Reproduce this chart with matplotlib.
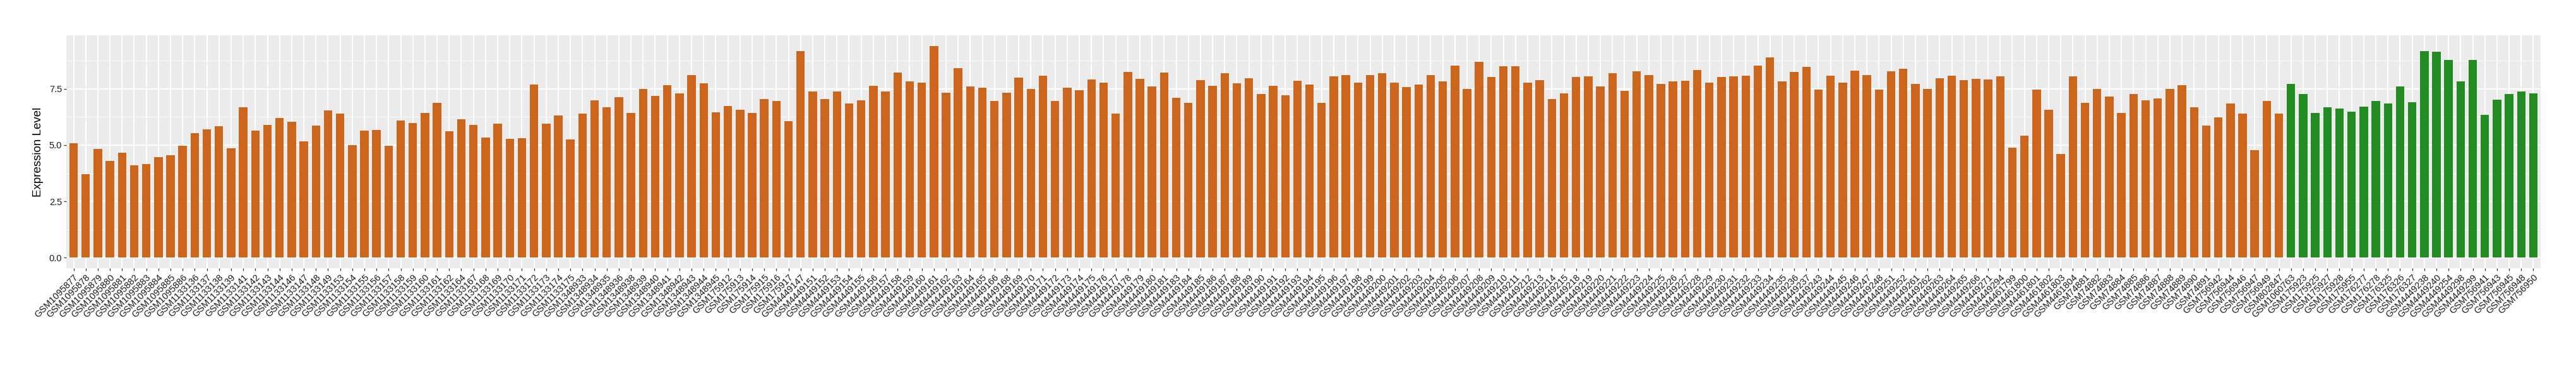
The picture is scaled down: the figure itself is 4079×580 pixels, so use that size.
import numpy as np
import matplotlib.pyplot as plt
from matplotlib.ticker import MultipleLocator, FormatStrFormatter

plt.rcParams['font.family'] = ['Liberation Sans', 'DejaVu Sans']

# Samples in the first (orange) group
orange_samples = [
    "GSM1095877", "GSM1095878", "GSM1095879", "GSM1095880", "GSM1095881",
    "GSM1095882", "GSM1095883", "GSM1095884", "GSM1095885", "GSM1095886",
    "GSM1133136", "GSM1133137", "GSM1133138", "GSM1133139", "GSM1133141",
    "GSM1133142", "GSM1133143", "GSM1133144", "GSM1133146", "GSM1133147",
    "GSM1133148", "GSM1133149", "GSM1133153", "GSM1133154", "GSM1133155",
    "GSM1133156", "GSM1133157", "GSM1133158", "GSM1133159", "GSM1133160",
    "GSM1133161", "GSM1133162", "GSM1133164", "GSM1133167", "GSM1133168",
    "GSM1133169", "GSM1133170", "GSM1133171", "GSM1133172", "GSM1133173",
    "GSM1133174", "GSM1133175", "GSM1348933", "GSM1348934", "GSM1348935",
    "GSM1348936", "GSM1348938", "GSM1348939", "GSM1348940", "GSM1348941",
    "GSM1348942", "GSM1348943", "GSM1348944", "GSM1348945", "GSM175912",
    "GSM175913", "GSM175914", "GSM175915", "GSM175916", "GSM175917",
    "GSM4449147", "GSM4449151", "GSM4449152", "GSM4449153", "GSM4449154",
    "GSM4449155", "GSM4449156", "GSM4449157", "GSM4449158", "GSM4449159",
    "GSM4449160", "GSM4449161", "GSM4449162", "GSM4449163", "GSM4449164",
    "GSM4449165", "GSM4449166", "GSM4449168", "GSM4449169", "GSM4449170",
    "GSM4449171", "GSM4449172", "GSM4449173", "GSM4449174", "GSM4449175",
    "GSM4449176", "GSM4449177", "GSM4449178", "GSM4449179", "GSM4449180",
    "GSM4449181", "GSM4449183", "GSM4449184", "GSM4449185", "GSM4449186",
    "GSM4449187", "GSM4449188", "GSM4449189", "GSM4449190", "GSM4449191",
    "GSM4449192", "GSM4449193", "GSM4449194", "GSM4449195", "GSM4449196",
    "GSM4449197", "GSM4449198", "GSM4449199", "GSM4449200", "GSM4449201",
    "GSM4449202", "GSM4449203", "GSM4449204", "GSM4449205", "GSM4449206",
    "GSM4449207", "GSM4449208", "GSM4449209", "GSM4449210", "GSM4449211",
    "GSM4449212", "GSM4449213", "GSM4449214", "GSM4449215", "GSM4449218",
    "GSM4449219", "GSM4449220", "GSM4449221", "GSM4449222", "GSM4449223",
    "GSM4449224", "GSM4449225", "GSM4449226", "GSM4449227", "GSM4449228",
    "GSM4449229", "GSM4449230", "GSM4449231", "GSM4449232", "GSM4449233",
    "GSM4449234", "GSM4449235", "GSM4449236", "GSM4449237", "GSM4449243",
    "GSM4449244", "GSM4449245", "GSM4449246", "GSM4449247", "GSM4449248",
    "GSM4449251", "GSM4449252", "GSM4449261", "GSM4449262", "GSM4449263",
    "GSM4449264", "GSM4449265", "GSM4449266", "GSM4449271", "GSM4449294",
    "GSM4461799", "GSM4461800", "GSM4461801", "GSM4461802", "GSM4461803",
    "GSM4461804", "GSM74881", "GSM74882", "GSM74883", "GSM74884",
    "GSM74885", "GSM74886", "GSM74887", "GSM74888", "GSM74889",
    "GSM74890", "GSM74891", "GSM756942", "GSM756944", "GSM756946",
    "GSM756947", "GSM756949", "GSM802847",
]
orange_values = [
    5.07, 3.72, 4.82, 4.29, 4.67, 4.11, 4.17, 4.48, 4.54, 4.96,
    5.52, 5.70, 5.83, 4.85, 6.68, 5.65, 5.91, 6.21, 6.05, 5.17,
    5.86, 6.55, 6.39, 5.01, 5.65, 5.68, 4.96, 6.10, 5.99, 6.44,
    6.89, 5.62, 6.15, 5.91, 5.35, 5.94, 5.27, 5.30, 7.69, 5.94,
    6.31, 5.25, 6.41, 7.00, 6.68, 7.13, 6.44, 7.50, 7.19, 7.67,
    7.31, 8.11, 7.76, 6.47, 6.74, 6.58, 6.44, 7.05, 6.95, 6.07,
    9.18, 7.37, 7.05, 7.39, 6.84, 7.00, 7.64, 7.39, 8.22, 7.82,
    7.79, 9.41, 7.34, 8.43, 7.61, 7.56, 6.95, 7.34, 8.01, 7.50,
    8.09, 6.97, 7.56, 7.45, 7.93, 7.79, 6.41, 8.25, 7.95, 7.61,
    8.22, 7.11, 6.89, 7.90, 7.64, 8.20, 7.75, 7.98, 7.26, 7.64,
    7.22, 7.87, 7.69, 6.89, 8.06, 8.11, 7.79, 8.11, 8.20, 7.79,
    7.58, 7.69, 8.11, 7.84, 8.54, 7.50, 8.70, 8.03, 8.51, 8.51,
    7.79, 7.90, 7.05, 7.31, 8.03, 8.06, 7.61, 8.20, 7.42, 8.27,
    8.11, 7.72, 7.82, 7.87, 8.35, 7.79, 8.03, 8.06, 8.09, 8.54,
    8.91, 7.82, 8.25, 8.48, 7.48, 8.09, 7.79, 8.32, 8.11, 7.48,
    8.29, 8.40, 7.72, 7.50, 7.98, 8.09, 7.90, 7.95, 7.93, 8.06,
    4.88, 5.43, 7.48, 6.58, 4.62, 8.06, 6.89, 7.50, 7.16, 6.44,
    7.26, 7.00, 7.08, 7.50, 7.67, 6.68, 5.88, 6.24, 6.86, 6.39,
    4.77, 6.97, 6.41,
]

# Samples in the second (green) group
green_samples = [
    "GSM1060763", "GSM175923", "GSM175925", "GSM175927", "GSM175928",
    "GSM175955", "GSM176277", "GSM176278", "GSM176325", "GSM176326",
    "GSM176327", "GSM4449238", "GSM4449240", "GSM4449254", "GSM4449298",
    "GSM4449299", "GSM756941", "GSM756943", "GSM756945", "GSM756948",
    "GSM756950",
]
green_values = [
    7.72, 7.26, 6.44, 6.68, 6.63, 6.50, 6.71, 6.97, 6.84, 7.61,
    6.92, 9.18, 9.15, 8.80, 7.84, 8.80, 6.36, 7.03, 7.26, 7.39,
    7.29,
]

samples = orange_samples + green_samples
values = np.array(orange_values + green_values)
colors = ["#CD661D"] * len(orange_samples) + ["#228B22"] * len(green_samples)
n = len(samples)
x = np.arange(n)

fig = plt.figure(figsize=(40.8, 5.8), dpi=100)
ax = fig.add_axes([105 / 4080, 1 - 425 / 580, (4023 - 105) / 4080, (425 - 56) / 580])
ax.set_facecolor("#EBEBEB")
for s in ax.spines.values():
    s.set_visible(False)

ax.bar(x, values, width=0.7, color=colors, zorder=3)

ymax = values.max()
ax.set_ylim(-0.05 * ymax, 1.05 * ymax)
ax.set_xlim(-0.6, n - 1 + 0.6)

ax.yaxis.set_major_locator(MultipleLocator(2.5))
ax.yaxis.set_minor_locator(MultipleLocator(1.25))
ax.yaxis.set_major_formatter(FormatStrFormatter("%.1f"))
ax.grid(which="major", color="white", linewidth=1.3, zorder=0)
ax.grid(which="minor", axis="y", color="white", linewidth=0.6, zorder=0)
ax.set_axisbelow(True)

ax.set_xticks(x)
ax.set_xticklabels(samples, rotation=45, ha="right", va="top",
                   rotation_mode="anchor", fontsize=10.5, color="#1a1a1a")
ax.tick_params(axis="both", which="major", length=3, width=0.9, color="#333333",
               labelsize=10.5, labelcolor="#1a1a1a", pad=2)
ax.tick_params(axis="y", which="minor", length=0)

ax.set_ylabel("Expression Level", fontsize=13.5, labelpad=6)

fig.savefig("out.png", dpi=100)
